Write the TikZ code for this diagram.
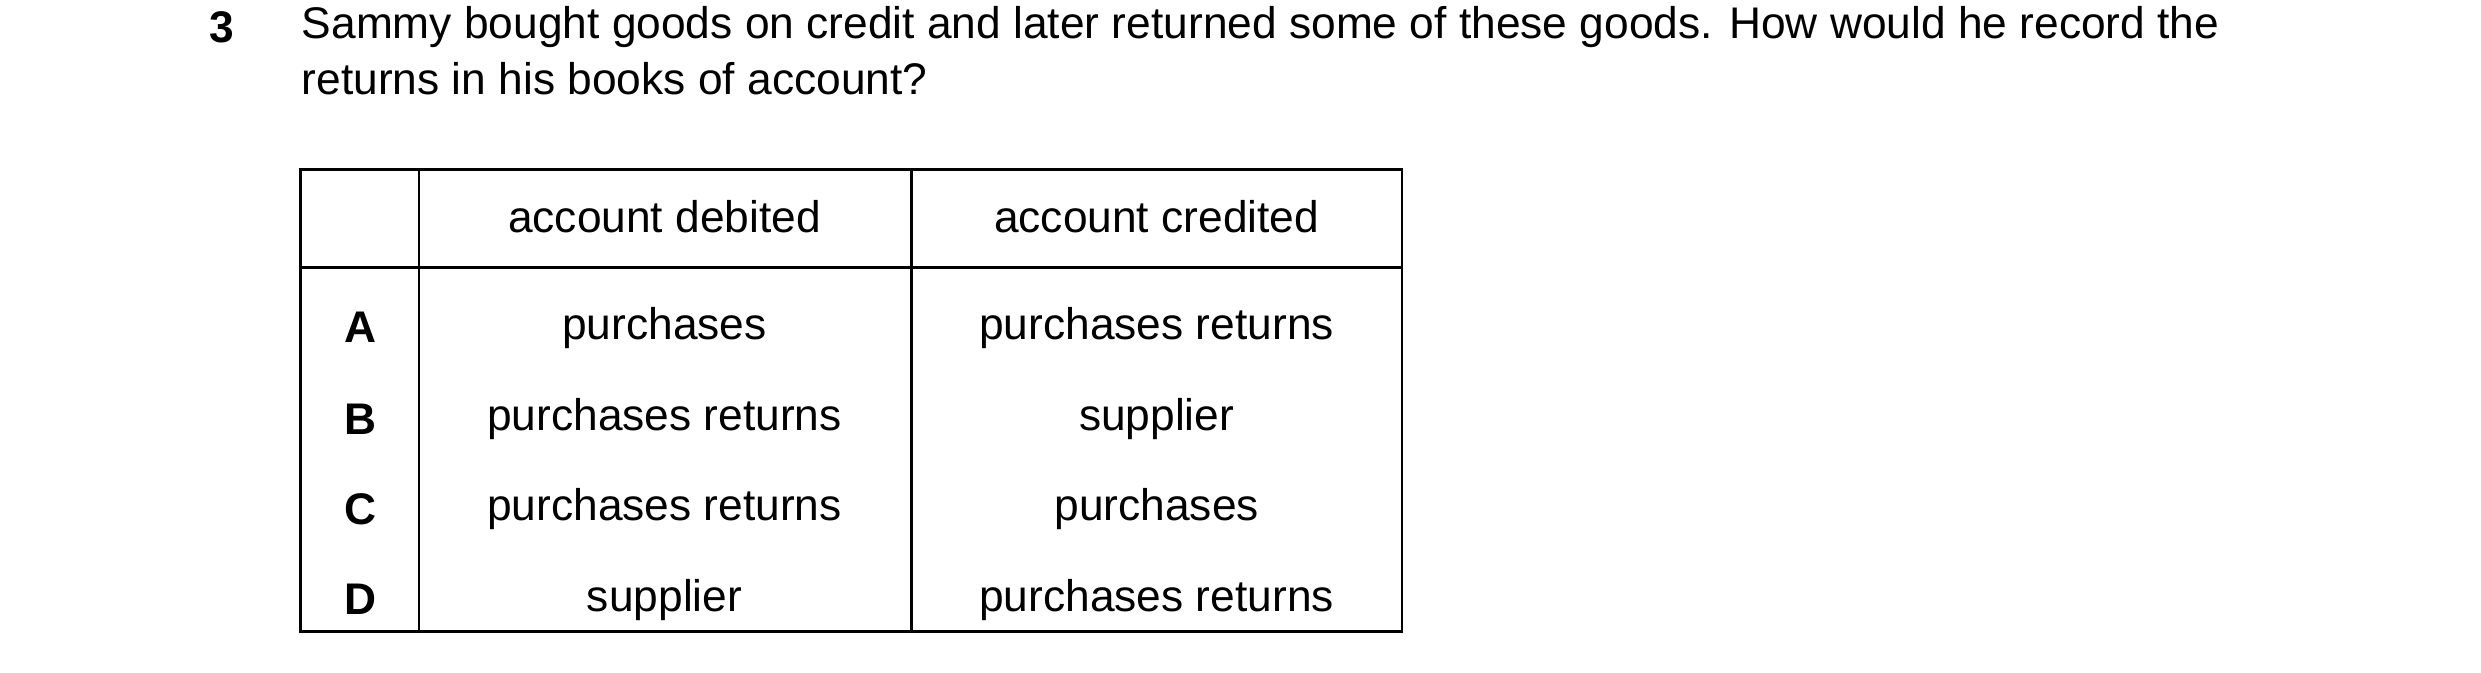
\documentclass[tikz,border=0pt]{standalone}
\usepackage{fontspec}
\setmainfont{Liberation Sans}
\usetikzlibrary{positioning}
\tikzset{%
  % text styles
      txt/.style = {inner sep=0pt, font=\fontsize{14}{16}\selectfont},
  question/.style = {txt, anchor=west},
     cell/.style = {txt},
   letter/.style = {txt, font=\fontsize{14}{16}\selectfont\bfseries},
}
\begin{document}
\begin{tikzpicture}[x=0.5pt, y=-0.5pt, line width=0.75pt]
\useasboundingbox (0,0) rectangle (1568,425);

\node (num) [letter] at (140,17) {3};
\node (q1) [question] at (190,17) {Sammy bought goods on credit and later returned some of these goods. How would he record the};
\node (q2) [question] at (190,50) {returns in his books of account?};

% table frame
\draw (190,107) rectangle (886,399);
\draw (190,169) -- (886,169);
\draw (265,107) -- (265,399);
\draw (576,107) -- (576,399);

\node (hdeb) [cell] at (420,137) {account debited};
\node (hcre) [cell] at (731,137) {account credited};

\node (A) [letter] at (228,207) {A};
\node (Adeb) [cell] at (420,207) {purchases};
\node (Acre) [cell] at (731,207) {purchases returns};

\node (B) [letter] at (228,265) {B};
\node (Bdeb) [cell] at (420,265) {purchases returns};
\node (Bcre) [cell] at (731,265) {supplier};

\node (C) [letter] at (228,322) {C};
\node (Cdeb) [cell] at (420,322) {purchases returns};
\node (Ccre) [cell] at (731,322) {purchases};

\node (D) [letter] at (228,379) {D};
\node (Ddeb) [cell] at (420,379) {supplier};
\node (Dcre) [cell] at (731,379) {purchases returns};
\end{tikzpicture}
\end{document}
